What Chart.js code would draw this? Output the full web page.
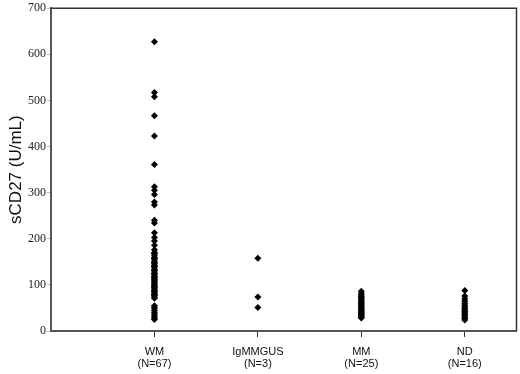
<!DOCTYPE html>
<html>
<head>
<meta charset="utf-8">
<script src="https://cdn.jsdelivr.net/npm/chart.js@4"></script>
<style>
html,body{margin:0;padding:0;background:#fff;}
#wrap{width:520px;height:374px;}
</style>
</head>
<body>
<div id="wrap"><canvas id="c" width="520" height="374"></canvas></div>
<script>
const categories = ["WM", "IgMMGUS", "MM", "ND"];
const groupSizes = ["(N=67)", "(N=3)", "(N=25)", "(N=16)"];
const wmValues = [627,517,508,467,423,361,313,305,296,280,273,240,234,213,203,195,186,176,
  170,168,165,160,158,155,150,148,146,142,140,138,134,132,130,126,124,122,118,116,115,112,110,108,104,102,100,97,96,94,91,88,86,85,82,80,78,77,74,71,
  55,52,48,44,40,36,32,28,25];
const mgusValues = [158,74,51];
const mmValues = [86,82,78,75,72,70,67,65,62,60,58,55,53,50,48,46,44,42,40,38,36,34,32,30,28];
const ndValues = [88,76,70,65,60,56,52,48,45,42,39,36,33,30,27,24];
const yTicks = [0,100,200,300,400,500,600,700];

const groups = [wmValues, mgusValues, mmValues, ndValues];
const points = [];
groups.forEach((vals, i) => vals.forEach(v => points.push({x: i + 1, y: v})));

const frame = {
  id: 'frame',
  afterDraw(chart) {
    const a = chart.chartArea, ctx = chart.ctx;
    ctx.save();
    ctx.strokeStyle = '#333';
    ctx.lineWidth = 1.5;
    ctx.beginPath();
    ctx.moveTo(a.left, a.top);
    ctx.lineTo(a.right, a.top);
    ctx.lineTo(a.right, a.bottom);
    ctx.stroke();
    ctx.restore();
  }
};

new Chart(document.getElementById('c'), {
  type: 'scatter',
  data: {
    datasets: [{
      data: points,
      pointStyle: 'rectRot',
      pointRadius: 3.5,
      pointHoverRadius: 3.5,
      backgroundColor: '#000',
      borderColor: '#000',
      borderWidth: 0
    }]
  },
  options: {
    responsive: false,
    animation: false,
    layout: {padding: {top: 5, right: 2, left: 6, bottom: 0}},
    plugins: {legend: {display: false}, tooltip: {enabled: false}},
    scales: {
      x: {
        type: 'linear',
        min: 0, max: 4.5,
        afterBuildTicks(s) { s.ticks = categories.map((c, i) => ({value: i + 1})); },
        afterFit(s) { s.height = 43; },
        grid: {display: true, drawOnChartArea: false, drawTicks: true, tickLength: 6, color: '#333', lineWidth: 1},
        border: {display: true, color: '#555', width: 2},
        ticks: {
          autoSkip: false, maxRotation: 0, padding: 9,
          color: '#111',
          font: {family: "'Liberation Sans', Arial, sans-serif", size: 11, lineHeight: 1.1},
          callback: (v) => { const i = Math.round(v) - 1; return [categories[i], groupSizes[i]]; }
        }
      },
      y: {
        type: 'linear',
        min: 0, max: 700,
        afterBuildTicks(s) { s.ticks = yTicks.map(v => ({value: v})); },
        afterFit(s) { s.width = 45; },
        grid: {display: true, drawOnChartArea: false, drawTicks: true, tickLength: 4, color: '#bbb', lineWidth: 1},
        border: {display: true, color: '#555', width: 2},
        title: {display: true, text: 'sCD27 (U/mL)', color: '#111',
          font: {family: "'Liberation Sans', Arial, sans-serif", size: 17}, padding: {top: 0, bottom: 2}},
        ticks: {
          color: '#222', padding: 1,
          font: {family: "'Liberation Serif', 'Times New Roman', serif", size: 12}
        }
      }
    }
  },
  plugins: [frame]
});
</script>
</body>
</html>
